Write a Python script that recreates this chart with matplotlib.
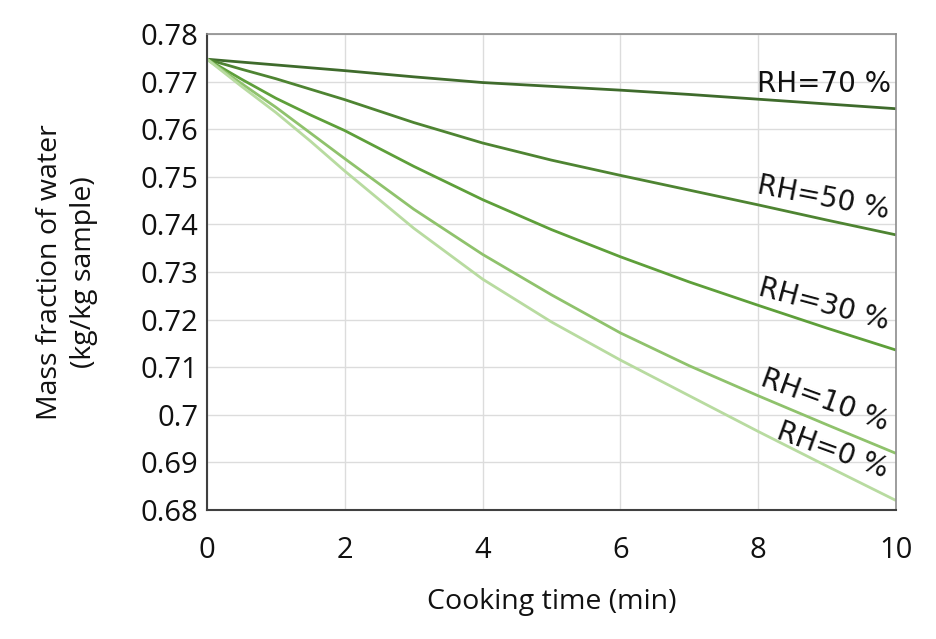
import matplotlib.pyplot as plt

# cooking time (min) and water mass fraction for each relative humidity
time_min = [0, 0.5, 1, 1.5, 2, 3, 4, 5, 6, 7, 8, 9, 10]
rh70 = [0.7747, 0.7741, 0.7735, 0.7729, 0.7723, 0.7710, 0.7698, 0.7690, 0.7682, 0.7673, 0.7663, 0.7653, 0.7643]
rh50 = [0.7747, 0.7726, 0.7706, 0.7684, 0.7662, 0.7614, 0.7571, 0.7535, 0.7503, 0.7472, 0.7441, 0.7409, 0.7378]
rh30 = [0.7747, 0.7705, 0.7665, 0.7630, 0.7597, 0.7522, 0.7452, 0.7389, 0.7332, 0.7279, 0.7230, 0.7182, 0.7136]
rh10 = [0.7747, 0.7696, 0.7646, 0.7592, 0.7538, 0.7432, 0.7337, 0.7252, 0.7172, 0.7103, 0.7040, 0.6979, 0.6919]
rh0 = [0.7747, 0.7690, 0.7635, 0.7575, 0.7512, 0.7392, 0.7285, 0.7195, 0.7115, 0.7040, 0.6965, 0.6892, 0.6820]

series_labels = ["RH=70 %", "RH=50 %", "RH=30 %", "RH=10 %", "RH=0 %"]
series_values = [rh70, rh50, rh30, rh10, rh0]
colors = ["#3f6b2c", "#4e8432", "#5e9f3a", "#8fc26c", "#b8dba0"]

# label anchor (time, fraction) and rotation for each curve
label_pos = [(8.95, 0.7695), (8.95, 0.7455), (8.95, 0.7231), (8.97, 0.7031), (9.08, 0.6926)]
label_rot = [0, -11, -15, -20, -20]

x_ticks = [0, 2, 4, 6, 8, 10]
y_ticks = [0.68, 0.69, 0.70, 0.71, 0.72, 0.73, 0.74, 0.75, 0.76, 0.77, 0.78]
y_tick_labels = ["0.68", "0.69", "0.7", "0.71", "0.72", "0.73", "0.74", "0.75", "0.76", "0.77", "0.78"]

plt.rcParams["font.family"] = ["Open Sans", "DejaVu Sans"]

fig = plt.figure(figsize=(9.36, 6.39), dpi=100)
ax = fig.add_axes([0.2212, 0.2019, 0.7360, 0.7449])

for values, color in zip(series_values, colors):
    ax.plot(time_min, values, color=color, lw=2.0, solid_capstyle="butt", solid_joinstyle="round")

for label, (tx, ty), rot in zip(series_labels, label_pos, label_rot):
    ax.text(tx, ty, label, rotation=rot, rotation_mode="anchor", ha="center", va="center",
            fontsize=20, family="DejaVu Sans", color="#111111")

ax.set_xlim(0, 10)
ax.set_ylim(0.68, 0.78)
ax.set_xticks(x_ticks)
ax.set_yticks(y_ticks)
ax.set_yticklabels(y_tick_labels)
ax.tick_params(axis="both", length=0, labelsize=21, colors="#111111")
ax.tick_params(axis="x", pad=19)
ax.tick_params(axis="y", pad=6)
ax.grid(True, color="#dcdcdc", lw=1.0)
ax.set_axisbelow(True)

for side in ["left", "bottom"]:
    ax.spines[side].set_color("#404040")
    ax.spines[side].set_linewidth(1.5)
for side in ["top", "right"]:
    ax.spines[side].set_color("#8c8c8c")
    ax.spines[side].set_linewidth(1.2)

ax.set_xlabel("Cooking time (min)", fontsize=20.5, color="#111111")
ax.set_ylabel("Mass fraction of water\n(kg/kg sample)", fontsize=20.5,
              color="#111111", linespacing=1.3)
ax.xaxis.set_label_coords(0.5, -0.163)
ax.yaxis.set_label_coords(-0.158, 0.5)

fig.savefig("out.png", dpi=100)
